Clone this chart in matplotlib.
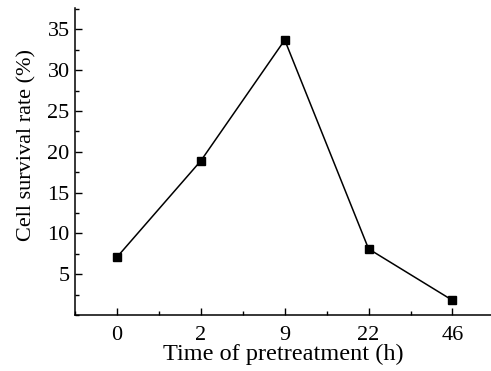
import matplotlib.pyplot as plt
from matplotlib.ticker import MultipleLocator

time_labels = ['0', '2', '9', '22', '46']  # время предобработки, ч
survival = [7.1, 18.9, 33.7, 8.1, 1.8]  # выживаемость клеток, %

plt.rcParams['font.family'] = ['Liberation Serif', 'DejaVu Serif']

fig = plt.figure(figsize=(4.91, 3.71), dpi=100)
ax = fig.add_axes([0.153, 0.151, 0.847, 0.827])

x = range(len(time_labels))
ax.plot(x, survival, c='black', linewidth=1.1,
        marker='s', markersize=5.5)

ax.set_xlim(-0.5, 4.46)
ax.set_ylim(0, 37.6)
ax.set_xticks(list(x))
ax.set_xticklabels(time_labels)
ax.xaxis.set_minor_locator(MultipleLocator(0.5))
ax.set_yticks([5, 10, 15, 20, 25, 30, 35])
ax.yaxis.set_minor_locator(MultipleLocator(2.5))

ax.spines['top'].set_visible(False)
ax.spines['right'].set_visible(False)
for s in ('left', 'bottom'):
    ax.spines[s].set_linewidth(1.1)

ax.tick_params(which='major', direction='in', length=5, width=1, labelsize=16)
ax.tick_params(axis='x', which='major', pad=8)
ax.tick_params(axis='y', which='major', pad=4)
ax.tick_params(which='minor', direction='in', length=3, width=1)

ax.set_xlabel('Time of pretreatment (h)', fontsize=17.5, labelpad=-1)
ax.set_ylabel('Cell survival rate (%)', fontsize=16)
ax.yaxis.set_label_coords(-0.094, 0.554)  # подпись оси Y чуть выше центра

fig.savefig('out.png', dpi=100)
